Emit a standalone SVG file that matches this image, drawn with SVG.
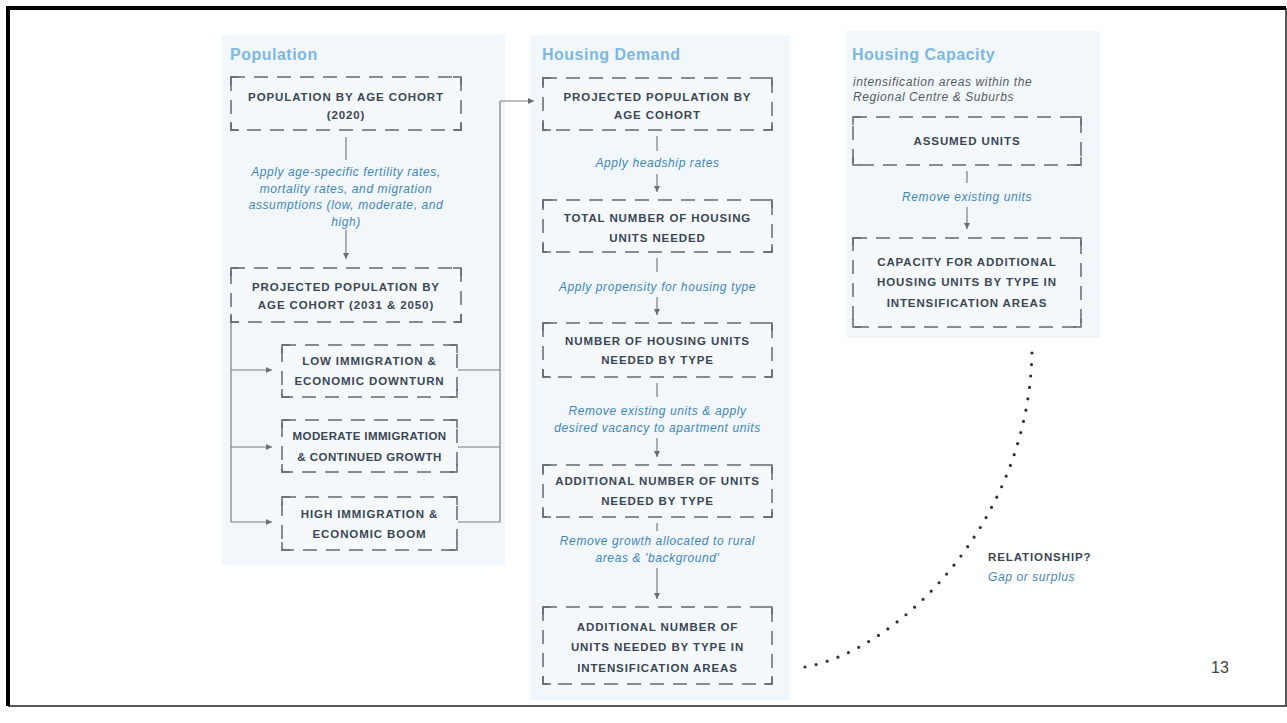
<svg xmlns="http://www.w3.org/2000/svg" width="1287" height="723" viewBox="0 0 1287 723">
<defs>
<marker id="ah" markerWidth="7" markerHeight="7" refX="6" refY="3" orient="auto" markerUnits="userSpaceOnUse">
<path d="M0,0 L6,3 L0,6 z" fill="#6b6f75"/>
</marker>
<style>
.panel{fill:#f2f7fb}
.box{fill:#f5f9fc;stroke:#666a70;stroke-width:1.5;stroke-dasharray:14 9}
.cor{fill:none;stroke:#666a70;stroke-width:1.5}
.bt{font-family:"Liberation Sans",Arial,sans-serif;font-weight:bold;font-size:11.5px;letter-spacing:0.9px;fill:#3a4655;text-anchor:middle}
.it{font-family:"Liberation Sans",Arial,sans-serif;font-style:italic;font-size:12px;letter-spacing:0.6px;fill:#3f86bd;text-anchor:middle}
.hd{font-family:"Liberation Sans",Arial,sans-serif;font-weight:bold;font-size:16px;letter-spacing:0.5px;fill:#7db8e3}
.ln{fill:none;stroke:#7a7e84;stroke-width:1.2}
</style>
</defs>
<rect width="1287" height="723" fill="#ffffff"/>
<g id="frame">
<path d="M1286,8 V706 H8" fill="none" stroke="#222" stroke-width="1.5"/>
<path d="M8,706 V8 H1286" fill="none" stroke="#000" stroke-width="4"/>
</g>
<g id="panels">
<rect class="panel" x="222" y="35" width="283" height="530"/>
<rect class="panel" x="530" y="35" width="260" height="665"/>
<rect class="panel" x="846" y="31" width="254" height="307"/>
</g>
<g id="headers">
<text class="hd" x="230" y="60">Population</text>
<text class="hd" x="542" y="60">Housing Demand</text>
<text class="hd" x="852" y="60">Housing Capacity</text>
<text x="853" y="86" style="font-family:'Liberation Sans',Arial,sans-serif;font-style:italic;font-size:12px;letter-spacing:0.6px;fill:#555b62">intensification areas within the</text>
<text x="853" y="101" style="font-family:'Liberation Sans',Arial,sans-serif;font-style:italic;font-size:12px;letter-spacing:0.6px;fill:#555b62">Regional Centre &amp; Suburbs</text>
</g>
<g id="connectors">
<line class="ln" x1="346" y1="137" x2="346" y2="160"/>
<line class="ln" x1="346" y1="230" x2="346" y2="259" marker-end="url(#ah)"/>
<path class="ln" d="M231,322 V522"/>
<line class="ln" x1="231" y1="370" x2="272" y2="370" marker-end="url(#ah)"/>
<line class="ln" x1="231" y1="447" x2="272" y2="447" marker-end="url(#ah)"/>
<line class="ln" x1="231" y1="522" x2="272" y2="522" marker-end="url(#ah)"/>
<path class="ln" d="M458,370 H500 M458,447 H500 M458,522 H500 V101"/>
<line class="ln" x1="500" y1="101" x2="534" y2="101" marker-end="url(#ah)"/>
<line class="ln" x1="657" y1="136" x2="657" y2="151"/>
<line class="ln" x1="657" y1="174" x2="657" y2="192" marker-end="url(#ah)"/>
<line class="ln" x1="657" y1="258" x2="657" y2="272"/>
<line class="ln" x1="657" y1="297" x2="657" y2="315" marker-end="url(#ah)"/>
<line class="ln" x1="657" y1="383" x2="657" y2="397"/>
<line class="ln" x1="657" y1="438" x2="657" y2="457" marker-end="url(#ah)"/>
<line class="ln" x1="657" y1="523" x2="657" y2="531"/>
<line class="ln" x1="657" y1="568" x2="657" y2="599" marker-end="url(#ah)"/>
<line class="ln" x1="967" y1="171" x2="967" y2="183"/>
<line class="ln" x1="967" y1="207" x2="967" y2="229" marker-end="url(#ah)"/>
<path d="M805,667 C900,650 1030,520 1032,350" fill="none" stroke="#2f3338" stroke-width="3.2" stroke-linecap="round" stroke-dasharray="0 11.5"/>
</g>
<g id="n-pop2020">
<rect class="box" x="231" y="77" width="230" height="53"/>
<path class="cor" d="M231,85 V77 H239 M453,77 H461 V85 M231,122 V130 H239 M453,130 H461 V122"/>
<text class="bt" x="346" y="101">POPULATION BY AGE COHORT</text>
<text class="bt" x="346" y="119">(2020)</text>
</g>
<g id="l-pop">
<text class="it" x="346" y="176">Apply age-specific fertility rates,</text>
<text class="it" x="346" y="192.5">mortality rates, and migration</text>
<text class="it" x="346" y="209">assumptions (low, moderate, and</text>
<text class="it" x="346" y="225.5">high)</text>
</g>
<g id="n-proj">
<rect class="box" x="231" y="268" width="230" height="54"/>
<path class="cor" d="M231,276 V268 H239 M453,268 H461 V276 M231,314 V322 H239 M453,322 H461 V314"/>
<text class="bt" x="346" y="291">PROJECTED POPULATION BY</text>
<text class="bt" x="346" y="309">AGE COHORT (2031 &amp; 2050)</text>
</g>
<g id="n-low">
<rect class="box" x="282" y="345" width="175" height="52"/>
<path class="cor" d="M282,353 V345 H290 M449,345 H457 V353 M282,389 V397 H290 M449,397 H457 V389"/>
<text class="bt" x="369.5" y="365">LOW IMMIGRATION &amp;</text>
<text class="bt" x="369.5" y="385">ECONOMIC DOWNTURN</text>
</g>
<g id="n-mod">
<rect class="box" x="282" y="420" width="175" height="52"/>
<path class="cor" d="M282,428 V420 H290 M449,420 H457 V428 M282,464 V472 H290 M449,472 H457 V464"/>
<text class="bt" x="369.5" y="440" style="letter-spacing:0.4px">MODERATE IMMIGRATION</text>
<text class="bt" x="369.5" y="461" style="letter-spacing:0.5px">&amp; CONTINUED GROWTH</text>
</g>
<g id="n-high">
<rect class="box" x="282" y="497" width="175" height="53"/>
<path class="cor" d="M282,505 V497 H290 M449,497 H457 V505 M282,542 V550 H290 M449,550 H457 V542"/>
<text class="bt" x="369.5" y="518">HIGH IMMIGRATION &amp;</text>
<text class="bt" x="369.5" y="538">ECONOMIC BOOM</text>
</g>
<g id="n-d1">
<rect class="box" x="543" y="78" width="229" height="52"/>
<path class="cor" d="M543,86 V78 H551 M764,78 H772 V86 M543,122 V130 H551 M764,130 H772 V122"/>
<text class="bt" x="657.5" y="101">PROJECTED POPULATION BY</text>
<text class="bt" x="657.5" y="119">AGE COHORT</text>
</g>
<text class="it" x="657.5" y="167">Apply headship rates</text>
<g id="n-d2">
<rect class="box" x="543" y="200" width="229" height="52"/>
<path class="cor" d="M543,208 V200 H551 M764,200 H772 V208 M543,244 V252 H551 M764,252 H772 V244"/>
<text class="bt" x="657.5" y="222">TOTAL NUMBER OF HOUSING</text>
<text class="bt" x="657.5" y="242">UNITS NEEDED</text>
</g>
<text class="it" x="657.5" y="291">Apply propensity for housing type</text>
<g id="n-d3">
<rect class="box" x="543" y="323" width="229" height="54"/>
<path class="cor" d="M543,331 V323 H551 M764,323 H772 V331 M543,369 V377 H551 M764,377 H772 V369"/>
<text class="bt" x="657.5" y="345">NUMBER OF HOUSING UNITS</text>
<text class="bt" x="657.5" y="364">NEEDED BY TYPE</text>
</g>
<text class="it" x="657.5" y="415">Remove existing units &amp; apply</text>
<text class="it" x="657.5" y="432">desired vacancy to apartment units</text>
<g id="n-d4">
<rect class="box" x="543" y="465" width="229" height="52"/>
<path class="cor" d="M543,473 V465 H551 M764,465 H772 V473 M543,509 V517 H551 M764,517 H772 V509"/>
<text class="bt" x="657.5" y="485">ADDITIONAL NUMBER OF UNITS</text>
<text class="bt" x="657.5" y="505">NEEDED BY TYPE</text>
</g>
<text class="it" x="657.5" y="545">Remove growth allocated to rural</text>
<text class="it" x="657.5" y="562">areas &amp; 'background'</text>
<g id="n-d5">
<rect class="box" x="543" y="607" width="229" height="77"/>
<path class="cor" d="M543,615 V607 H551 M764,607 H772 V615 M543,676 V684 H551 M764,684 H772 V676"/>
<text class="bt" x="657.5" y="631">ADDITIONAL NUMBER OF</text>
<text class="bt" x="657.5" y="651">UNITS NEEDED BY TYPE IN</text>
<text class="bt" x="657.5" y="672">INTENSIFICATION AREAS</text>
</g>
<g id="n-c1">
<rect class="box" x="853" y="117" width="228" height="48"/>
<path class="cor" d="M853,125 V117 H861 M1073,117 H1081 V125 M853,157 V165 H861 M1073,165 H1081 V157"/>
<text class="bt" x="967" y="145">ASSUMED UNITS</text>
</g>
<text class="it" x="967" y="201">Remove existing units</text>
<g id="n-c2">
<rect class="box" x="853" y="238" width="228" height="89"/>
<path class="cor" d="M853,246 V238 H861 M1073,238 H1081 V246 M853,319 V327 H861 M1073,327 H1081 V319"/>
<text class="bt" x="967" y="266">CAPACITY FOR ADDITIONAL</text>
<text class="bt" x="967" y="286">HOUSING UNITS BY TYPE IN</text>
<text class="bt" x="967" y="307">INTENSIFICATION AREAS</text>
</g>
<g id="relationship">
<text x="988" y="561" style="font-family:'Liberation Sans',Arial,sans-serif;font-weight:bold;font-size:11.5px;letter-spacing:0.9px;fill:#3a4655">RELATIONSHIP?</text>
<text x="988" y="581" style="font-family:'Liberation Sans',Arial,sans-serif;font-style:italic;font-size:12px;letter-spacing:0.6px;fill:#3f86bd">Gap or surplus</text>
</g>
<text x="1211" y="673" style="font-family:'Liberation Sans',Arial,sans-serif;font-size:16px;fill:#444">13</text>
</svg>
